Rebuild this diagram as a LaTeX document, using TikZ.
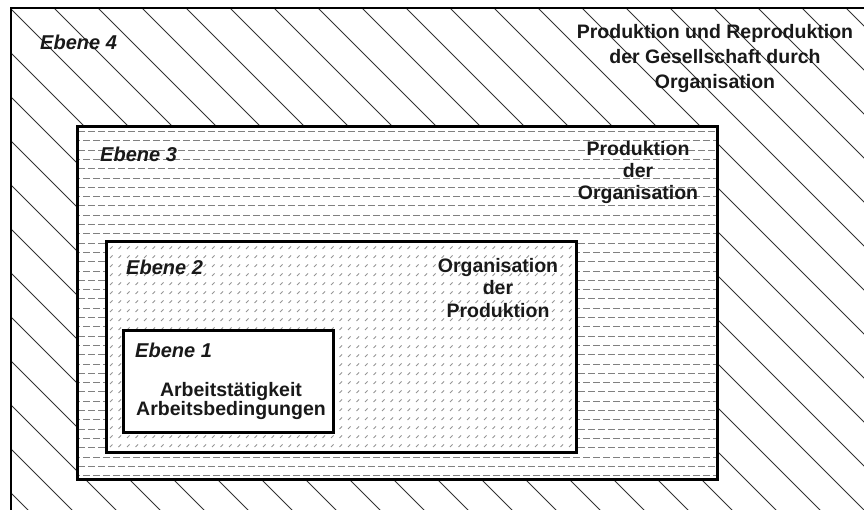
\documentclass[tikz,border=0pt]{standalone}
\usepackage{fontspec}
\setmainfont{Liberation Sans}
\begin{document}
\begin{tikzpicture}[x=1pt,y=-1pt,
  hatch/.style={line width=0.9pt, draw=black!80},
  dashrow/.style={line width=1pt, draw=black!50},
  slashmark/.style={line width=0.8pt, draw=black!42},
  boxframe/.style={line width=3pt, draw=black},
  lbl/.style={font=\fontsize{20}{24}\selectfont\bfseries\itshape, anchor=base west, inner sep=0pt, text=black!90},
  txt/.style={font=\fontsize{19.5}{24}\selectfont\bfseries, anchor=base, inner sep=0pt, text=black!90}]
\useasboundingbox (0,0) rectangle (864,510);
% level 4 hatching
\begin{scope}
  \clip (11,8) rectangle (864,510);
  \foreach \k in {-13,...,21} {
    \draw[hatch] ({2+44*\k-20},-20) -- ({2+44*\k+540},540);
  }
\end{scope}
\draw[line width=2pt] (11,515) -- (11,8) -- (870,8);
% level 3 box
\fill[white] (77,127) rectangle (717,479);
\begin{scope}
  \clip (77,127) rectangle (717,479);
  \foreach \i in {0,...,37} {
    \pgfmathsetmacro\yy{round(131+9.3*\i)+0.5}
    \pgfmathsetmacro\ph{mod(\i,2)*5}
    \draw[dashrow, dash pattern=on 6.5pt off 3.5pt, dash phase=\ph pt] (78,\yy) -- (717,\yy);
  }
\end{scope}
% level 2 box
\fill[white] (106,242) rectangle (576,452);
\begin{scope}
  \clip (106,242) rectangle (576,452);
  \foreach \i in {0,...,55} {
    \foreach \j in {0,...,23} {
      \draw[slashmark] ({110+8.5*\i},{249+9*\j}) -- ++(2.5,-2.5);
    }
  }
\end{scope}
% level 1 box
\fill[white] (123,330) rectangle (333,432);
% frames
\draw[boxframe] (77,127) rectangle (717,479);
\draw[boxframe] (106,242) rectangle (576,452);
\draw[boxframe] (123,330) rectangle (333,432);
% texts
\node[lbl] (e4) at (40,50) {Ebene 4};
\node[txt] (t4a) at (715,39) {Produktion und Reproduktion};
\node[txt] (t4b) at (715,64) {der Gesellschaft durch};
\node[txt] (t4c) at (715,89) {Organisation};
\node[lbl] (e3) at (100,162) {Ebene 3};
\node[txt] (t3a) at (638,156) {Produktion};
\node[txt] (t3b) at (638,178) {der};
\node[txt] (t3c) at (638,200) {Organisation};
\node[lbl] (e2) at (126,275) {Ebene 2};
\node[txt] (t2a) at (498,273) {Organisation};
\node[txt] (t2b) at (498,295) {der};
\node[txt] (t2c) at (498,317) {Produktion};
\node[lbl] (e1) at (135,357) {Ebene 1};
\node[txt] (t1a) at (231,396) {Arbeitstätigkeit};
\node[txt] (t1b) at (231,415) {Arbeitsbedingungen};
\end{tikzpicture}
\end{document}
